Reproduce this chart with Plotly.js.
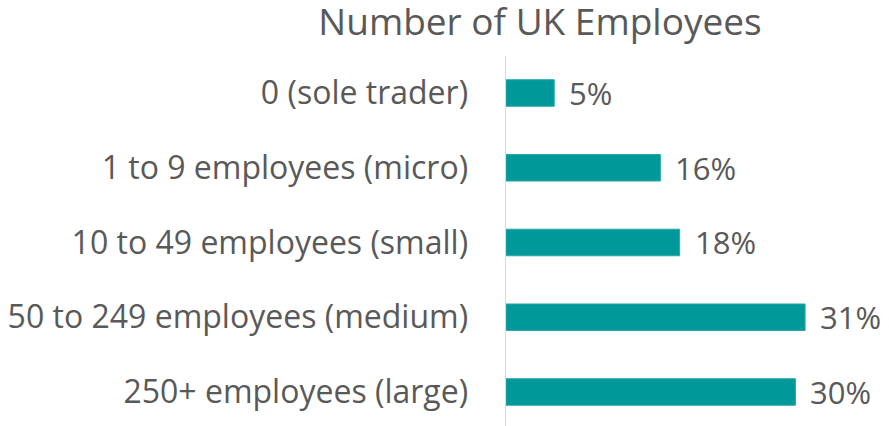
<!DOCTYPE html>
<html><head><meta charset="utf-8">
<script src="https://cdn.plot.ly/plotly-3.0.1.min.js"></script>
<style>html,body{margin:0;padding:0;background:#fff}#chart{width:889px;height:426px}</style>
</head><body><div id="chart"></div>
<script>
const categories = ["0 (sole trader)", "1 to 9 employees (micro)", "10 to 49 employees (small)", "50 to 249 employees (medium)", "250+ employees (large)"];
const values = [5, 16, 18, 31, 30];
const valueLabels = ["5%", "16%", "18%", "31%", "30%"];
const chartTitle = "Number of UK Employees";

const FONT = "Open Sans, Noto Sans, sans-serif";
const GREY = "#595959";

const trace = {
  type: "bar",
  orientation: "h",
  x: values,
  y: categories,
  marker: {color: "#009899", line: {color: "#2aa9a9", width: 1}},
  hoverinfo: "skip"
};

const annotations = values.map((v, i) => ({
  x: v, y: categories[i], xref: "x", yref: "y",
  text: valueLabels[i], showarrow: false,
  xanchor: "left", yanchor: "middle", xshift: 13,
  font: {family: FONT, size: 31, color: GREY}
}));

const layout = {
  width: 889, height: 426,
  margin: {l: 506, r: 0, t: 56, b: 0},
  paper_bgcolor: "#fff", plot_bgcolor: "#fff",
  showlegend: false,
  bargap: 0.645,
  title: {
    text: chartTitle,
    x: 540/889, xanchor: "center", xref: "container",
    y: 1 - 22/426, yanchor: "middle", yref: "container",
    font: {family: FONT, size: 37, color: GREY}
  },
  xaxis: {
    range: [0, 39.7], showgrid: false, showticklabels: false, ticks: "",
    zeroline: false, showline: false, fixedrange: true
  },
  yaxis: {
    type: "category", range: [4.455, -0.495],
    showgrid: false, zeroline: false,
    showline: true, linecolor: "#d9d9d9", linewidth: 1.5,
    ticks: "", ticklabelstandoff: 30,
    tickfont: {family: FONT, size: 32, color: GREY}
  },
  annotations: annotations
};

Plotly.newPlot("chart", [trace], layout, {displayModeBar: false, staticPlot: true});
</script></body></html>
